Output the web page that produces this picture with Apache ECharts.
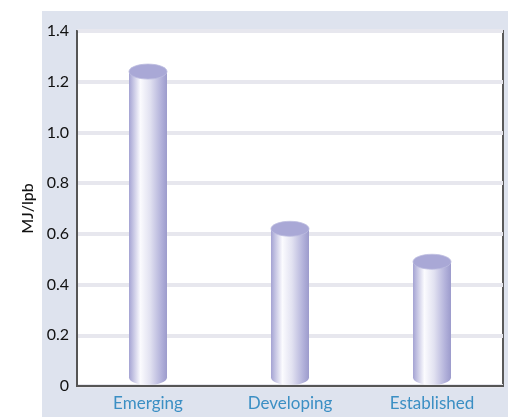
<!DOCTYPE html>
<html>
<head>
<meta charset="utf-8">
<script src="https://cdn.jsdelivr.net/npm/echarts@6/dist/echarts.min.js"></script>
<style>
  html, body { margin: 0; padding: 0; background: #ffffff; }
  #chart { width: 508px; height: 417px; }
</style>
</head>
<body>
<div id="chart"></div>
<script>
// Energy use per pound by stage
const categories = ['Emerging', 'Developing', 'Established'];
const energyValues = [1.24, 0.62, 0.49];
const yTickMin = 0;
const yTickMax = 1.4;
const yTickStep = 0.2;

const chart = echarts.init(document.getElementById('chart'));

const cylinderFill = new echarts.graphic.LinearGradient(0, 0, 1, 0, [
  { offset: 0, color: '#a4a3d3' },
  { offset: 0.3, color: '#fbfbfe' },
  { offset: 0.55, color: '#e2e2f1' },
  { offset: 0.85, color: '#b2b1da' },
  { offset: 1, color: '#9c9bcc' }
]);

function renderCylinder(params, api) {
  const idx = api.value(0);
  const top = api.coord([idx, api.value(1)]);
  const base = api.coord([idx, 0]);
  const w = 38;
  const ry = 7.5;
  const cx = top[0];
  return {
    type: 'group',
    children: [
      {
        type: 'ellipse',
        shape: { cx: cx, cy: base[1] - ry - 1, rx: w / 2, ry: ry },
        style: { fill: cylinderFill }
      },
      {
        type: 'rect',
        shape: { x: cx - w / 2, y: top[1], width: w, height: base[1] - ry - 1 - top[1] },
        style: { fill: cylinderFill }
      },
      {
        type: 'ellipse',
        shape: { cx: cx, cy: top[1], rx: w / 2, ry: ry },
        style: { fill: '#a9a8d6', stroke: '#bdbce0', lineWidth: 0.8 }
      }
    ]
  };
}

chart.setOption({
  animation: false,
  backgroundColor: '#ffffff',
  graphic: [
    {
      type: 'rect',
      z: -10,
      shape: { x: 42, y: 11, width: 466, height: 406 },
      style: { fill: '#dee3ee' }
    }
  ],
  grid: {
    left: 77, right: 5, top: 31, bottom: 31,
    show: true,
    backgroundColor: '#ffffff',
    borderColor: '#5a5a5a',
    borderWidth: 2
  },
  xAxis: {
    type: 'category',
    data: categories,
    axisLine: { lineStyle: { color: '#555555', width: 2 } },
    axisTick: { inside: true, length: 8, lineStyle: { color: '#555555', width: 2 } },
    axisLabel: {
      color: '#3b8fc4',
      fontFamily: 'Lato',
      fontSize: 17,
      margin: 9
    }
  },
  yAxis: {
    type: 'value',
    min: yTickMin,
    max: yTickMax,
    interval: yTickStep,
    name: 'MJ/lpb',
    nameLocation: 'middle',
    nameGap: 33,
    nameTextStyle: { color: '#111111', fontFamily: 'Lato', fontSize: 16, fontWeight: 500 },
    axisLine: { show: true, lineStyle: { color: '#555555', width: 2 } },
    axisTick: { show: false },
    axisLabel: {
      color: '#111111',
      fontFamily: 'Lato',
      fontSize: 16,
      margin: 8,
      formatter: v => (v === 0 ? '0' : v.toFixed(1))
    },
    splitLine: { lineStyle: { color: '#e7e7ee', width: 4 } }
  },
  series: [
    {
      type: 'custom',
      renderItem: renderCylinder,
      data: energyValues.map((v, i) => [i, v]),
      encode: { x: 0, y: 1 }
    }
  ]
});
</script>
</body>
</html>
